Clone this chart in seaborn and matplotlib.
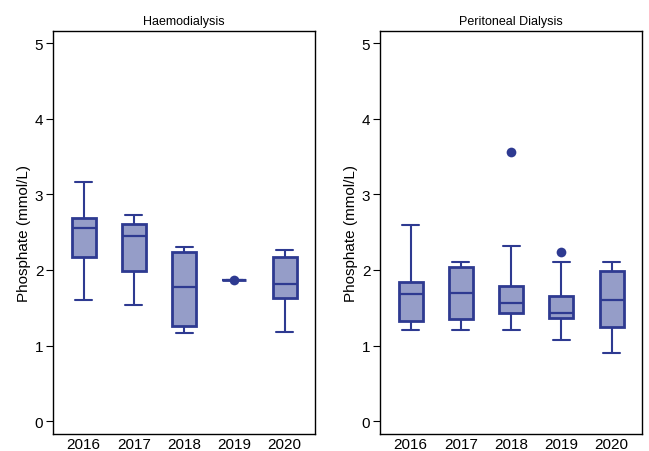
import numpy as np
import pandas as pd
import seaborn as sns
import matplotlib.pyplot as plt

years = ['2016', '2017', '2018', '2019', '2020']

# five-number summaries: low whisker, q1, median, q3, high whisker
hd_low = [1.60, 1.54, 1.16, 1.87, 1.18]
hd_q1 = [2.17, 1.98, 1.26, 1.87, 1.63]
hd_med = [2.55, 2.45, 1.77, 1.87, 1.81]
hd_q3 = [2.69, 2.61, 2.24, 1.87, 2.17]
hd_high = [3.16, 2.73, 2.30, 1.87, 2.27]
hd_out_year = ['2019']
hd_out_val = [1.87]

pd_low = [1.20, 1.20, 1.20, 1.07, 0.90]
pd_q1 = [1.33, 1.35, 1.43, 1.36, 1.25]
pd_med = [1.68, 1.70, 1.56, 1.43, 1.60]
pd_q3 = [1.84, 2.04, 1.79, 1.65, 1.99]
pd_high = [2.60, 2.11, 2.32, 2.10, 2.10]
pd_out_year = ['2018', '2019']
pd_out_val = [3.56, 2.24]

fill = '#959dc8'
edge = '#2e3a91'


def long_table(low, q1, med, q3, high):
    rows = []
    for i, y in enumerate(years):
        for v in (low[i], q1[i], med[i], q3[i], high[i]):
            rows.append({'year': y, 'value': v})
    return pd.DataFrame(rows)


sns.set_style('white')
plt.rcParams['font.family'] = ['Liberation Sans', 'DejaVu Sans']
plt.rcParams['text.color'] = 'black'
plt.rcParams['axes.labelcolor'] = 'black'
plt.rcParams['xtick.color'] = 'black'
plt.rcParams['ytick.color'] = 'black'

fig = plt.figure(figsize=(6.49, 4.52), dpi=100)
ax1 = fig.add_axes([0.0817, 0.0376, 0.4033, 0.8916])
ax2 = fig.add_axes([0.5855, 0.0376, 0.4033, 0.8916])

panels = [
    (ax1, 'Haemodialysis', long_table(hd_low, hd_q1, hd_med, hd_q3, hd_high), hd_out_year, hd_out_val),
    (ax2, 'Peritoneal Dialysis', long_table(pd_low, pd_q1, pd_med, pd_q3, pd_high), pd_out_year, pd_out_val),
]

for ax, title, df, oy, ov in panels:
    sns.boxplot(
        data=df, x='year', y='value', order=years, ax=ax,
        whis=np.inf, width=0.48, color=fill, saturation=1,
        linecolor=edge, linewidth=1.5,
        boxprops={'linewidth': 2.0},
        medianprops={'linewidth': 1.6},
    )
    out = pd.DataFrame({'year': oy, 'value': ov})
    sns.stripplot(data=out, x='year', y='value', order=years, ax=ax,
                  jitter=False, color=edge, size=7)
    # shorter caps
    for line in ax.lines:
        xd = line.get_xdata()
        yd = line.get_ydata()
        if len(xd) == 2 and yd[0] == yd[1] and abs(xd[1] - xd[0]) > 0.2 and abs(xd[1] - xd[0]) < 0.3:
            c = (xd[0] + xd[1]) / 2
            line.set_xdata([c - 0.17, c + 0.17])
    ax.set_xlim(-0.61, 4.6)
    ax.set_ylim(-0.17, 5.16)
    ax.set_yticks([0, 1, 2, 3, 4, 5])
    ax.set_title(title, fontsize=9, pad=5)
    ax.set_xlabel('')
    ax.set_ylabel('Phosphate (mmol/L)', fontsize=11, labelpad=3)
    ax.tick_params(axis='y', length=5, width=0.8, labelsize=11, left=True, pad=2)
    ax.tick_params(axis='x', length=0, labelsize=11, pad=2)
    for s in ax.spines.values():
        s.set_color('black')
        s.set_linewidth(1.0)

fig.savefig('out.png', dpi=100)
